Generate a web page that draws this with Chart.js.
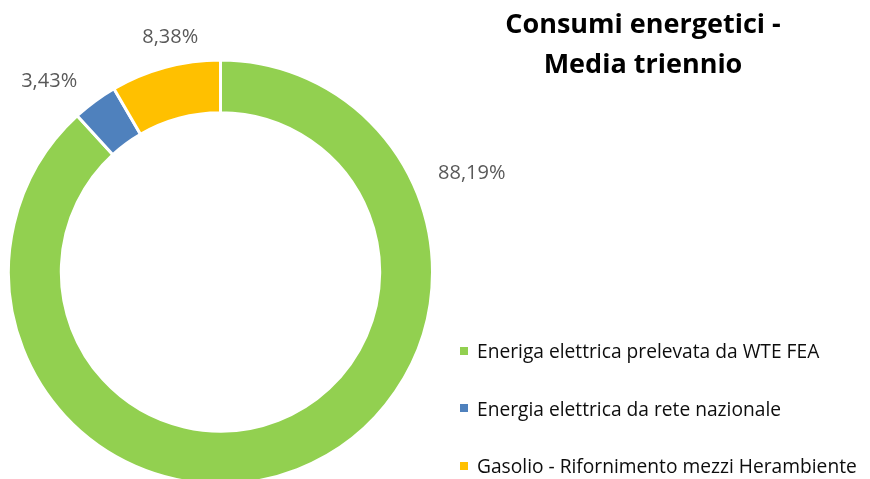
<!DOCTYPE html>
<html>
<head>
<meta charset="utf-8">
<script src="https://cdn.jsdelivr.net/npm/chart.js@4/dist/chart.umd.min.js"></script>
<style>
  html, body { margin: 0; padding: 0; background: #fff; }
  body { width: 870px; height: 479px; overflow: hidden; position: relative; font-family: "Open Sans", "Lato", sans-serif; font-variant-ligatures: none; }
  #wrap { position: absolute; left: 0; top: 0; width: 870px; height: 490px; }
  #title { position: absolute; left: 443px; width: 400px; top: 3px; text-align: center; font-weight: bold; font-size: 27px; line-height: 40px; color: #000; }
  #legend { position: absolute; left: 460px; top: 337px; }
  .item { position: relative; height: 57.5px; font-size: 19.2px; line-height: 28px; color: #0d0d0d; white-space: nowrap; }
  .sw { display: inline-block; width: 8px; height: 8px; margin-right: 9px; vertical-align: middle; position: relative; top: -2px; }
</style>
</head>
<body>
<div id="wrap"><canvas id="c" width="870" height="490"></canvas></div>
<div id="title"></div>
<div id="legend"></div>
<script>
const titleLines = ["Consumi energetici -", "Media triennio"];
const categories = [
  "Eneriga elettrica prelevata da WTE FEA",
  "Energia elettrica da rete nazionale",
  "Gasolio - Rifornimento mezzi Herambiente"
];
const shares = [88.19, 3.43, 8.38];
const valueLabels = ["88,19%", "3,43%", "8,38%"];
const colors = ["#92D050", "#4F81BD", "#FFC000"];
// label placement: angle from 12 o'clock (deg, clockwise) and distance as multiple of outer radius
const labelAngles = [68.6, 318.1, 347.9];
const labelDist = [1.273, 1.21, 1.131];

document.getElementById('title').innerHTML = titleLines.join('<br>');
const lg = document.getElementById('legend');
categories.forEach((c, i) => {
  const d = document.createElement('div');
  d.className = 'item';
  d.innerHTML = '<span class="sw" style="background:' + colors[i] + '"></span>' + c;
  lg.appendChild(d);
});

const labelPlugin = {
  id: 'valLabels',
  afterDatasetsDraw(chart) {
    const meta = chart.getDatasetMeta(0);
    const ctx = chart.ctx;
    ctx.save();
    ctx.font = '20px "Open Sans", Lato, sans-serif';
    ctx.fillStyle = '#595959';
    ctx.textAlign = 'center';
    ctx.textBaseline = 'middle';
    meta.data.forEach((arc, i) => {
      const p = arc.getProps(['x', 'y', 'outerRadius'], true);
      const a = labelAngles[i] * Math.PI / 180;
      const r = p.outerRadius * labelDist[i];
      ctx.fillText(valueLabels[i], p.x + Math.sin(a) * r, p.y - Math.cos(a) * r);
    });
    ctx.restore();
  }
};

new Chart(document.getElementById('c'), {
  type: 'doughnut',
  data: {
    labels: categories,
    datasets: [{
      data: shares,
      backgroundColor: colors,
      borderColor: '#ffffff',
      borderWidth: 3,
      hoverOffset: 0
    }]
  },
  options: {
    responsive: false,
    animation: false,
    radius: 212,
    cutout: '75.1%',
    layout: { padding: { left: 10, right: 439, top: 61.5, bottom: 7.5 } },
    plugins: { legend: { display: false }, title: { display: false }, tooltip: { enabled: false } },
    events: []
  },
  plugins: [labelPlugin]
});
</script>
</body>
</html>
